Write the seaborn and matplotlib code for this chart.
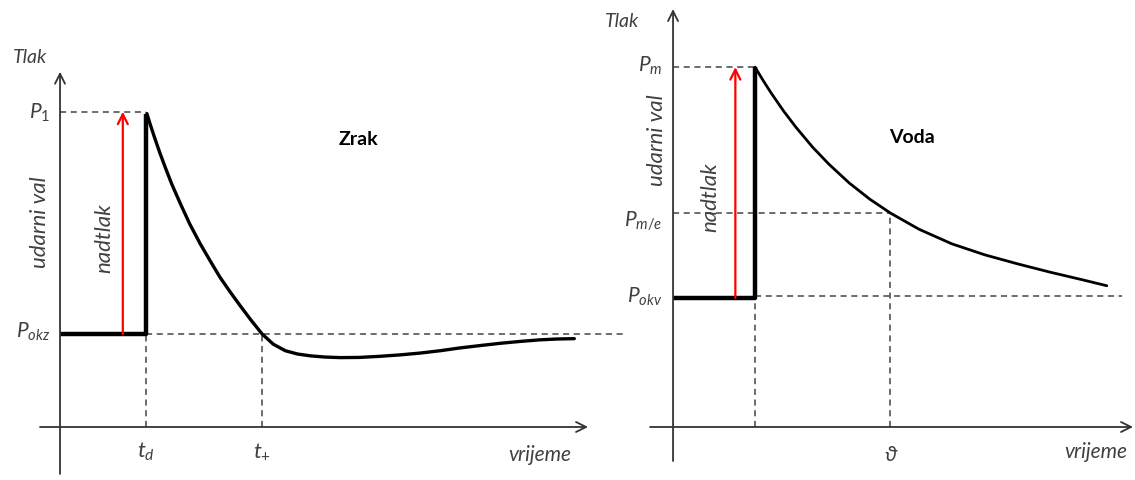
import matplotlib
matplotlib.use("Agg")
import matplotlib.pyplot as plt
import seaborn as sns
import pandas as pd

sns.set_theme(style="white")
plt.rcParams['font.family'] = ['Lato', 'DejaVu Sans']
plt.rcParams['mathtext.fontset'] = 'custom'
plt.rcParams['mathtext.rm'] = 'Lato'
plt.rcParams['mathtext.it'] = 'Lato:italic'

# ---- data (schematic units) ----
# air (Zrak)
air_t_d = 1.0
air_t_plus = 2.35
air_p0 = 1.0
air_p1 = 3.39
air_t = [1.01, 1.05, 1.10, 1.16, 1.22, 1.30, 1.40, 1.51, 1.63, 1.75, 1.86, 1.98, 2.09,
         2.22, 2.35, 2.48, 2.62, 2.76, 2.91, 3.08, 3.26, 3.48, 3.72, 3.95, 4.19, 4.42,
         4.65, 4.88, 5.12, 5.35, 5.58, 5.78, 5.98]
air_p = [3.37, 3.25, 3.11, 2.95, 2.80, 2.61, 2.40, 2.18, 1.97, 1.78, 1.61, 1.45, 1.31,
         1.15, 1.00, 0.89, 0.82, 0.785, 0.765, 0.752, 0.746, 0.748, 0.76, 0.775, 0.795, 0.82,
         0.85, 0.875, 0.90, 0.92, 0.937, 0.946, 0.95]

# water (Voda)
wat_t0 = 1.0
wat_theta = 2.65
wat_p0 = 1.0
wat_pm = 2.79
wat_pme = 1.66
wat_t = [1.0, 1.1, 1.2, 1.35, 1.5, 1.7, 1.9, 2.15, 2.4, 2.65, 3.0, 3.4, 3.8, 4.2, 4.6, 5.0, 5.29]
wat_p = [2.79, 2.685, 2.586, 2.448, 2.323, 2.171, 2.038, 1.891, 1.766, 1.659, 1.533, 1.42,
         1.335, 1.265, 1.20, 1.14, 1.095]

txt = '#404040'
dash_kw = dict(color='#444444', lw=1.1, ls=(0, (4, 3)))

fig = plt.figure(figsize=(11.35, 4.81), dpi=100)
ax1 = fig.add_axes([0, 0, 624 / 1135, 1])
ax2 = fig.add_axes([624 / 1135, 0, 1 - 624 / 1135, 1])


def axis_arrow(ax, start, end):
    ax.annotate('', xy=end, xytext=start,
                arrowprops=dict(arrowstyle='->,head_length=0.6,head_width=0.3',
                                lw=1.3, color='#333333', shrinkA=0, shrinkB=0))


def red_arrow(ax, x, y0, y1):
    ax.annotate('', xy=(x, y1), xytext=(x, y0),
                arrowprops=dict(arrowstyle='->,head_length=0.6,head_width=0.3',
                                lw=1.6, color='red', shrinkA=0, shrinkB=0))


# ---------------- left: Zrak ----------------
ax1.set_xlim(-0.698, 6.558)
ax1.set_ylim(-0.570, 4.602)
axis_arrow(ax1, (-0.233, 0), (6.14, 0))
axis_arrow(ax1, (0, -0.505), (0, 3.82))

ax1.plot([0, air_t_d], [air_p1, air_p1], **dash_kw)
ax1.plot([air_t_d, 6.6], [air_p0, air_p0], **dash_kw)
ax1.plot([air_t_d, air_t_d], [0, air_p0], **dash_kw)
ax1.plot([air_t_plus, air_t_plus], [0, air_p0], **dash_kw)

step1 = pd.DataFrame({'t': [0, air_t_d, air_t_d], 'p': [air_p0, air_p0, air_p[0]]})
sns.lineplot(data=step1, x='t', y='p', ax=ax1, sort=False, estimator=None,
             color='black', lw=3.2, solid_capstyle='butt')
sns.lineplot(x=air_t, y=air_p, ax=ax1, sort=False, estimator=None,
             color='black', lw=2.4)
red_arrow(ax1, 0.73, air_p0, air_p1)

ax1.text(-0.35, 3.98, 'Tlak', fontsize=14, style='italic', color=txt, ha='center', va='center')
ax1.text(-0.116, air_p1, r'$P_{1}$', fontsize=15, color=txt, ha='right', va='center')
ax1.text(-0.116, air_p0 + 0.03, r'$P_{okz}$', fontsize=15, color=txt, ha='right', va='center')
ax1.text(-0.233, 2.215, 'udarni val', fontsize=16, style='italic', color=txt,
         rotation=90, ha='center', va='center')
ax1.text(0.52, 2.04, 'nadtlak', fontsize=16, style='italic', color=txt,
         rotation=90, ha='center', va='center')
ax1.text(3.47, 3.10, 'Zrak', fontsize=14, weight='bold', color='black', ha='center', va='center')
ax1.text(air_t_d, -0.26, r'$t_{d}$', fontsize=16, color=txt, ha='center', va='center')
ax1.text(air_t_plus, -0.26, r'$t_{+}$', fontsize=16, color=txt, ha='center', va='center')
ax1.text(5.58, -0.29, 'vrijeme', fontsize=15, style='italic', color=txt, ha='center', va='center')

# ---------------- right: Voda ----------------
ax2.set_xlim(-0.598, 5.634)
ax2.set_ylim(-0.411, 3.318)
axis_arrow(ax2, (-0.28, 0), (5.61, 0))
axis_arrow(ax2, (0, -0.264), (0, 3.24))

ax2.plot([0, wat_t0], [wat_pm, wat_pm], **dash_kw)
ax2.plot([0, wat_theta], [wat_pme, wat_pme], **dash_kw)
ax2.plot([wat_t0, 5.48], [wat_p0 + 0.015, wat_p0 + 0.015], **dash_kw)
ax2.plot([wat_t0, wat_t0], [0, wat_p0], **dash_kw)
ax2.plot([wat_theta, wat_theta], [0, wat_pme], **dash_kw)

step2 = pd.DataFrame({'t': [0, wat_t0, wat_t0], 'p': [wat_p0, wat_p0, wat_pm]})
sns.lineplot(data=step2, x='t', y='p', ax=ax2, sort=False, estimator=None,
             color='black', lw=3.2, solid_capstyle='butt')
sns.lineplot(x=wat_t, y=wat_p, ax=ax2, sort=False, estimator=None,
             color='black', lw=2.0)
red_arrow(ax2, 0.76, wat_p0, wat_pm)

ax2.text(-0.62, 3.15, 'Tlak', fontsize=14, style='italic', color=txt, ha='center', va='center')
ax2.text(-0.134, wat_pm + 0.02, r'$P_{m}$', fontsize=15, color=txt, ha='right', va='center')
ax2.text(-0.134, wat_pme - 0.06, r'$P_{m/e}$', fontsize=15, color=txt, ha='right', va='center')
ax2.text(-0.134, wat_p0 + 0.02, r'$P_{okv}$', fontsize=15, color=txt, ha='right', va='center')
ax2.text(-0.195, 2.23, 'udarni val', fontsize=16, style='italic', color=txt,
         rotation=90, ha='center', va='center')
ax2.text(0.45, 1.79, 'nadtlak', fontsize=16, style='italic', color=txt,
         rotation=90, ha='center', va='center')
ax2.text(2.91, 2.25, 'Voda', fontsize=14, weight='bold', color='black', ha='center', va='center')
ax2.text(wat_theta, -0.21, 'ϑ', fontsize=15, style='italic', color=txt, ha='center', va='center')
ax2.text(5.15, -0.19, 'vrijeme', fontsize=15, style='italic', color=txt, ha='center', va='center')

for ax in (ax1, ax2):
    ax.set_axis_off()

fig.savefig('out.png', dpi=100)
